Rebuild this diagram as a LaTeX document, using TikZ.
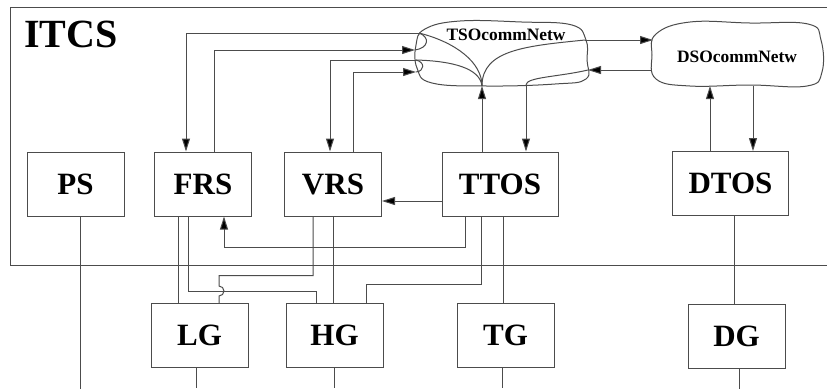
\documentclass[tikz,border=0pt]{standalone}
\usepackage{fontspec}
\setmainfont{Liberation Serif}
\usetikzlibrary{arrows.meta}

\begin{document}
\begin{tikzpicture}[x=0.5pt, y=-0.5pt,
        link/.style={draw=black!70, line width=0.5pt},
        arr/.style={link, -{Triangle[length=6.5pt, width=4pt, fill=black]}},
        box/.style={draw=black!70, line width=0.5pt, minimum width=48.5pt, minimum height=32pt, inner sep=0pt, font=\fontsize{15.5}{18}\selectfont\bfseries},
        widebox/.style={box, minimum width=58pt},
        netlabel/.style={font=\fontsize{8.7}{10}\selectfont\bfseries}]
        \useasboundingbox (0,0) rectangle (827,388);

        % system frame
        \draw[link] (827,7) -- (10,7) -- (10,265) -- (827,265);
        \node[anchor=west, font=\fontsize{20}{24}\selectfont\bfseries] (itcs) at (17,34) {ITCS};

        \node[box] (PS) at (75.5,184) {PS};
        \node[box] (FRS) at (203,184) {FRS};
        \node[box] (VRS) at (333,184) {VRS};
        \node[widebox] (TTOS) at (500,184) {TTOS};
        \node[widebox] (DTOS) at (730.5,183.5) {DTOS};

        \node[box] (LG) at (199.5,335.5) {LG};
        \node[box] (HG) at (334.5,335.5) {HG};
        \node[box] (TG) at (505.5,335.5) {TG};
        \node[box] (DG) at (736.5,336) {DG};

        % the two networks
        \draw[link] plot[smooth cycle, tension=0.7] coordinates {(425,29) (460,21) (522,22) (572,25) (586,40) (587,60) (586,79) (555,84) (488,86) (432,83) (417,68) (416,45)};
        \node[netlabel] (tso) at (506,35) {TSOcommNetw};
        \draw[link] plot[smooth cycle, tension=0.7] coordinates {(656,34) (690,22) (750,23) (808,24) (821,40) (822,72) (807,86) (750,85) (690,86) (656,79) (652,55)};
        \node[netlabel] (dso) at (737,57) {DSOcommNetw};

        \coordinate (tso1) at (419,33);
        \coordinate (tso2) at (415,50);
        \coordinate (tso3) at (416,60);
        \coordinate (tso4) at (416,72);
        \coordinate (tso5) at (482,86);
        \coordinate (tso6) at (526,85);
        \coordinate (tso7) at (585,40);
        \coordinate (tso8) at (588,70);
        \coordinate (dso1) at (653,40);
        \coordinate (dso2) at (652,70);
        \coordinate (dso3) at (710,86);
        \coordinate (dso4) at (753,86);

        % routes inside TSOcommNetw
        \draw[link] (tso1) .. controls (455,42) and (482,62) .. (tso5);
        \draw[link] (tso3) .. controls (452,61) and (480,68) .. (tso5);
        \draw[link] (tso7) .. controls (525,46) and (482,50) .. (tso5);
        \draw[link] (tso8) .. controls (558,77) and (526,77) .. (tso6);
        \draw[link] (tso1) .. controls (430,37) and (429,48) .. (tso2);
        \draw[link] (tso3) .. controls (425,62) and (425,71) .. (tso4);

        % upper links
        \draw[arr] (tso1) -| ([xshift=-8.5pt]FRS.north);
        \draw[arr] ([xshift=5.5pt]FRS.north) |- (tso2);
        \draw[arr] (tso3) -| ([xshift=-1.5pt]VRS.north);
        \draw[arr] ([xshift=10pt]VRS.north) |- (tso4);
        \draw[arr] ([xshift=-9pt]TTOS.north) -- (tso5);
        \draw[arr] (tso6) -- ([xshift=13pt]TTOS.north);
        \draw[arr] (tso7) -- (dso1);
        \draw[arr] (dso2) -- (tso8);
        \draw[arr] ([xshift=-10.25pt]DTOS.north) -- (dso3);
        \draw[arr] (dso4) -- ([xshift=11.25pt]DTOS.north);

        \draw[arr] ([yshift=-8.5pt]TTOS.west) -- ([yshift=-8.5pt]TTOS.west -| VRS.east);
        \draw[arr] ([xshift=-17.5pt]TTOS.south) -- ++(0,31) -| ([xshift=10.5pt]FRS.south);

        % lower links
        \draw[link] ([xshift=-12.5pt]FRS.south) -- ([xshift=-12.5pt]FRS.south |- LG.north);
        \draw[link] ([xshift=-7.5pt]FRS.south) -- ++(0,75) -| ([xshift=-9.25pt]HG.north);
        \draw[link] ([xshift=-10pt]VRS.south) -- ++(0,59) -| ([xshift=9.75pt]LG.north |- 0,286)
            arc[start angle=90, end angle=-90, radius=2.5pt] -- ([xshift=9.75pt]LG.north);
        \draw[link] (VRS.south) -- (VRS.south |- HG.north);
        \draw[link] ([xshift=-9.5pt]TTOS.south) -- ++(0,68) -| ([xshift=15.75pt]HG.north);
        \draw[link] ([xshift=1.5pt]TTOS.south) -- ([xshift=1.5pt]TTOS.south |- TG.north);
        \draw[link] ([xshift=1.75pt]DTOS.south) -- ([xshift=1.75pt]DTOS.south |- DG.north);

        % down to the bottom
        \draw[link] ([xshift=2.25pt]PS.south) -- ++(0,172);
        \draw[link] ([xshift=-1.75pt]LG.south) -- ++(0,20);
        \draw[link] (HG.south) -- ++(0,20);
        \draw[link] ([xshift=-1.75pt]TG.south) -- ++(0,20);
        \draw[link] ([xshift=1.25pt]DG.south) -- ++(0,20);
\end{tikzpicture}
\end{document}
